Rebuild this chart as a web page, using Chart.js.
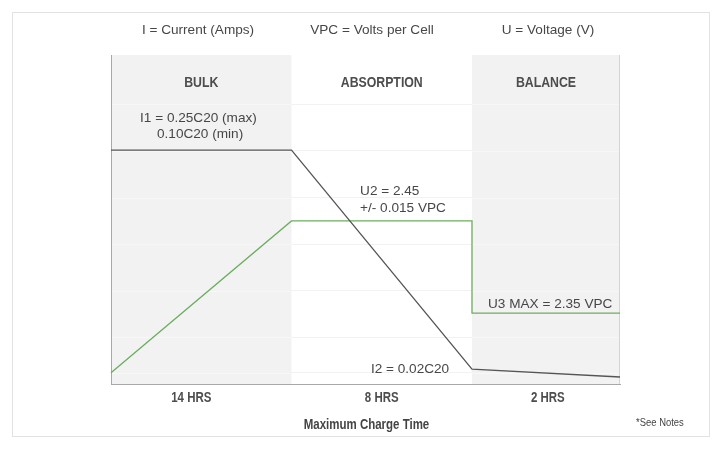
<!DOCTYPE html>
<html>
<head>
<meta charset="utf-8">
<script src="https://cdn.jsdelivr.net/npm/chart.js@4.4.1/dist/chart.umd.min.js"></script>
<style>
  html, body { margin: 0; padding: 0; background: #fff; }
  #wrap { position: relative; width: 726px; height: 449px; }
  #frame { position: absolute; left: 12px; top: 12px; width: 696px; height: 423px; border: 1px solid #e2e2e2; }
  #chart { position: absolute; left: 0; top: 0; }
</style>
</head>
<body>
<div id="wrap">
  <div id="frame"></div>
  <canvas id="chart" width="726" height="449"></canvas>
</div>
<script>
// charge phases (x in phase units)
const phaseNames = ['BULK', 'ABSORPTION', 'BALANCE'];
const phaseStart = [0, 1, 2];
const phaseEnd = [1, 2, 2.82];
const phaseShaded = [true, false, true];

const xTickValues = [0.445, 1.5, 2.42];
const xTickLabels = ['14 HRS', '8 HRS', '2 HRS'];
const yGridValues = [0.24, 1, 2, 3, 4, 5, 6];

// current (I) and voltage (U) curves
const currentX = [0, 1, 2, 2.82];
const currentY = [5.02, 5.02, 0.32, 0.15];
const voltageX = [0, 1, 2, 2, 2.82];
const voltageY = [0.24, 3.5, 3.5, 1.52, 1.52];

// header notes and annotations, anchored at data values
const headerTexts = ['I = Current (Amps)', 'VPC = Volts per Cell', 'U = Voltage (V)'];
const headerX = [0.482, 1.446, 2.421];
const headerY = 7.6;
const noteTexts = ['I1 = 0.25C20 (max)', '0.10C20 (min)', 'U2 = 2.45', '+/- 0.015 VPC', 'U3 MAX = 2.35 VPC', 'I2 = 0.02C20'];
const noteX = [0.161, 0.255, 1.38, 1.38, 2.089, 1.44];
const noteY = [5.71, 5.36, 4.14, 3.78, 1.72, 0.32];

const regular = '"Liberation Sans", Arial, sans-serif';

// no condensed face installed, so squeeze Liberation Sans horizontally
function narrowText(ctx, text, cx, cy, font, color, align) {
    ctx.save();
    ctx.font = font + ' ' + regular;
    ctx.fillStyle = color;
    ctx.textAlign = align || 'center';
    ctx.textBaseline = 'middle';
    ctx.translate(cx, cy);
    ctx.scale(0.82, 1);
    ctx.fillText(text, 0, 0);
    ctx.restore();
}

const phasePlugin = {
    id: 'phases',
    beforeDraw(chart) {
        const {ctx, chartArea: a, scales: {x}} = chart;
        ctx.save();
        ctx.fillStyle = '#f2f2f2';
        phaseNames.forEach((n, i) => {
            if (!phaseShaded[i]) return;
            const x0 = x.getPixelForValue(phaseStart[i]);
            const x1 = x.getPixelForValue(phaseEnd[i]);
            ctx.fillRect(x0, a.top, x1 - x0, a.bottom - a.top);
        });
        ctx.restore();
    },
    beforeDatasetsDraw(chart) {
        const {ctx, chartArea: a, scales: {x, y}} = chart;
        ctx.save();
        // grid looks lighter inside the shaded bands
        ctx.strokeStyle = '#f7f7f7';
        ctx.lineWidth = 1;
        phaseNames.forEach((n, i) => {
            if (!phaseShaded[i]) return;
            const x0 = Math.max(x.getPixelForValue(phaseStart[i]), a.left + 1);
            const x1 = x.getPixelForValue(phaseEnd[i]);
            yGridValues.forEach(v => {
                const py = Math.round(y.getPixelForValue(v)) + 0.5;
                ctx.beginPath();
                ctx.moveTo(x0, py);
                ctx.lineTo(x1, py);
                ctx.stroke();
            });
        });
        ctx.strokeStyle = '#d4d4d4';
        ctx.beginPath();
        ctx.moveTo(Math.round(a.right) - 0.5, a.top);
        ctx.lineTo(Math.round(a.right) - 0.5, a.bottom);
        ctx.stroke();
        ctx.restore();
    },
    afterDatasetsDraw(chart) {
        const {ctx, chartArea: a, scales: {x, y}} = chart;
        ctx.save();
        ctx.textBaseline = 'middle';
        ctx.fillStyle = '#474747';
        ctx.font = '13.6px ' + regular;
        ctx.textAlign = 'center';
        headerTexts.forEach((t, i) => {
            ctx.fillText(t, x.getPixelForValue(headerX[i]), y.getPixelForValue(headerY));
        });
        ctx.textAlign = 'left';
        noteTexts.forEach((t, i) => {
            ctx.fillText(t, x.getPixelForValue(noteX[i]), y.getPixelForValue(noteY[i]));
        });
        ctx.restore();

        phaseNames.forEach((t, i) => {
            const cx = x.getPixelForValue((phaseStart[i] + phaseEnd[i]) / 2);
            narrowText(ctx, t, cx, y.getPixelForValue(6.46), 'bold 15px', '#4d4d4d');
        });
        xTickValues.forEach((v, i) => {
            narrowText(ctx, xTickLabels[i], x.getPixelForValue(v), a.bottom + 14, 'bold 14px', '#4d4d4d');
        });
        narrowText(ctx, 'Maximum Charge Time', (a.left + a.right) / 2 + 1, a.bottom + 41, 'bold 14px', '#444');
        narrowText(ctx, '*See Notes', x.getPixelForValue(2.909), y.getPixelForValue(-0.84), '11.5px', '#444', 'left');
    }
};

new Chart(document.getElementById('chart'), {
    type: 'line',
    data: {
        datasets: [
            {
                label: 'Current',
                data: currentX.map((v, i) => ({x: v, y: currentY[i]})),
                borderColor: '#555555',
                borderWidth: 1.3,
                pointRadius: 0,
                tension: 0,
                clip: false
            },
            {
                label: 'Voltage',
                data: voltageX.map((v, i) => ({x: v, y: voltageY[i]})),
                borderColor: '#6cae5f',
                borderWidth: 1.3,
                pointRadius: 0,
                tension: 0,
                clip: false
            }
        ]
    },
    options: {
        responsive: false,
        animation: false,
        devicePixelRatio: 1,
        layout: { padding: { left: 0, right: 106, top: 55, bottom: 0 } },
        plugins: { legend: { display: false }, tooltip: { enabled: false } },
        scales: {
            x: {
                type: 'linear',
                min: 0,
                max: 2.82,
                afterBuildTicks: s => { s.ticks = xTickValues.map(v => ({value: v})); },
                afterFit: s => { s.height = 65; },
                grid: { display: false, drawTicks: false },
                border: { color: '#a8a8a8', width: 1 },
                ticks: { display: false }
            },
            y: {
                min: 0,
                max: 7.06,
                afterBuildTicks: s => { s.ticks = yGridValues.map(v => ({value: v})); },
                afterFit: s => { s.width = 111; },
                ticks: { display: false },
                grid: { color: '#f2f2f2', drawTicks: false },
                border: { color: '#a8a8a8', width: 1 }
            }
        }
    },
    plugins: [phasePlugin]
});
</script>
</body>
</html>
